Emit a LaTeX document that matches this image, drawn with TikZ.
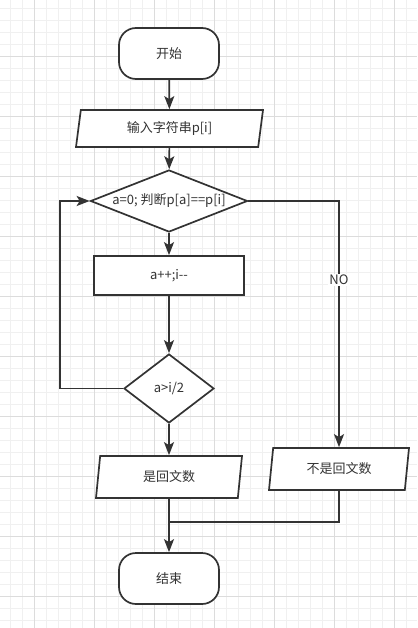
\documentclass[tikz,border=0pt]{standalone}
\usepackage{fontspec}
\newfontfamily\cjk{Noto Sans CJK SC}
\usetikzlibrary{arrows.meta,shapes.geometric}
\pgfdeclarelayer{background}
\pgfsetlayers{background,main}
\definecolor{ink}{HTML}{333333}
\definecolor{gridminor}{HTML}{F0F0F0}
\definecolor{gridmajor}{HTML}{DCDCDC}
\tikzstyle{box}=[draw=ink,fill=white,line width=1.7pt,inner sep=0pt]
\tikzstyle{terminal}=[box,rectangle,rounded corners=17pt,minimum width=100pt,minimum height=51pt]
\tikzstyle{io}=[box,trapezium,trapezium left angle=71,trapezium right angle=109,trapezium stretches body]
\tikzstyle{process}=[box,rectangle,minimum width=150pt,minimum height=39pt]
\tikzstyle{decision}=[box,diamond,aspect=2.5]
\tikzstyle{line}=[draw=ink,line width=1.7pt]
\tikzstyle{edge}=[line,-{Stealth[length=13pt,width=10pt,inset=3pt]}]
\tikzstyle{tag}=[fill=white,inner sep=1pt]

\begin{document}
\begin{tikzpicture}[x=1pt,y=-1pt,every node/.style={font=\cjk\fontsize{13}{15}\selectfont,text=ink}]
	% Grid paper behind everything
	\begin{pgfonlayer}{background}
		\useasboundingbox[fill=white] (0,0) rectangle (417,628);
		\foreach \x in {10.3,22.3,...,417} \draw[gridminor,line width=0.8pt] (\x,0) -- (\x,628);
		\foreach \y in {8,20,...,628} \draw[gridminor,line width=0.8pt] (0,\y) -- (417,\y);
		\foreach \x in {34.3,94.3,...,417} \draw[gridmajor,line width=0.8pt] (\x,0) -- (\x,628);
		\foreach \y in {56,116,...,628} \draw[gridmajor,line width=0.8pt] (0,\y) -- (417,\y);
	\end{pgfonlayer}

	% First we draw the steps
	\node[terminal] (start) at (169,53.5) {开始};
	\node[io,minimum width=187pt,minimum height=37pt] (input) at (169.5,128.5) {输入字符串p[i]};
	\node[decision,minimum width=157pt,minimum height=62pt] (judge) at (169,201) {a=0; 判断p[a]==p[i]};
	\node[process] (incr) at (169,275.5) {a++;i-{}-};
	\node[decision,minimum width=90pt,minimum height=69pt] (check) at (169,388.5) {a>i/2};
	\node[io,minimum width=146pt,minimum height=42pt] (yes) at (169,477) {是回文数};
	\node[io,minimum width=140pt,minimum height=42pt] (no) at (339,469) {不是回文数};
	\node[terminal] (stop) at (169,578.5) {结束};
	\coordinate (merge) at (169,522);

	% Connect the steps
	\foreach \source/\dest in {start/input, input/judge, judge/incr, incr/check, check/yes, yes/stop}
	\path[edge] (\source) -- (\dest);

	\path[edge] (check.west) -- ++(-63,0) |- (judge.west);
	\path[edge] (judge.east) -| node[tag,pos=0.66] {NO} (no.north);
	\path[line] (no.south) |- (merge);
\end{tikzpicture}
\end{document}
